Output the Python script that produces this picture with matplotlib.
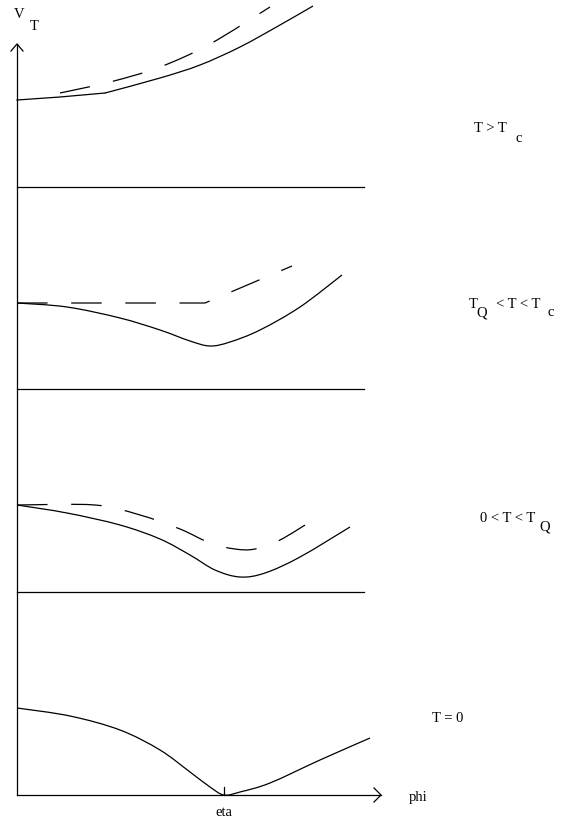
import numpy as np
import matplotlib
matplotlib.use("Agg")
import matplotlib.pyplot as plt
from matplotlib.path import Path
from matplotlib.patches import PathPatch

plt.rcParams["font.family"] = ["Liberation Serif", "DejaVu Serif"]
plt.rcParams["lines.scale_dashes"] = False

# ==========================
# Data (schematic, picture units: phi to the right, V downwards)
# ==========================

# T > Tc
phi_hot = [17, 60, 105, 160, 200, 240, 280, 313]
v_hot = [100, 97, 93, 78, 65, 47, 25, 6]
phi_hot_d = [60, 110, 160, 210, 270]
v_hot_d = [93, 82, 67, 44, 7]

# TQ < T < Tc
phi_mid = [17, 67, 120, 160, 190, 210, 230, 260, 300, 342]
v_mid = [303, 307, 318, 330, 341, 346, 342, 330, 307, 275]
phi_mid_d = [17, 205, 292]
v_mid_d = [303, 303, 266]

# 0 < T < TQ
phi_low = [17, 67, 120, 160, 190, 215, 240, 265, 300, 350]
v_low = [505, 513, 525, 539, 555, 570, 577, 573, 557, 527]
phi_low_d = [17, 95, 140, 180, 210, 235, 255, 280, 313]
v_low_d = [505, 505, 515, 529, 543, 549, 549, 540, 520]

# T = 0
phi_zero = [17, 70, 120, 160, 190, 210, 224, 240, 270, 320, 370]
v_zero = [708, 716, 730, 750, 772, 787, 795, 792, 783, 760, 738]

separators = [187, 389, 592]


def smooth_path(xs, ys):
    # cubic bezier through the points (catmull-rom tangents)
    p = np.column_stack([xs, ys]).astype(float)
    verts = [p[0]]
    codes = [Path.MOVETO]
    for i in range(len(p) - 1):
        t0 = (p[i + 1] - p[max(i - 1, 0)]) / 6.0
        t1 = (p[min(i + 2, len(p) - 1)] - p[i]) / 6.0
        verts += [p[i] + t0, p[i + 1] - t1, p[i + 1]]
        codes += [Path.CURVE4] * 3
    return Path(verts, codes)


def curve(ax, xs, ys, **kw):
    ax.add_patch(PathPatch(smooth_path(xs, ys), fill=False,
                           edgecolor="black", **kw))


# ==========================
# Figure
# ==========================

fig = plt.figure(figsize=(5.81, 8.27), dpi=100)
ax = fig.add_axes([0, 0, 1, 1])
ax.set_xlim(0, 581)
ax.set_ylim(827, 0)
ax.axis("off")

lw = 0.9
dash = (0, (22, 17))

# kink in the T > Tc curve
ax.plot(phi_hot[:3], v_hot[:3], color="black", lw=lw)
curve(ax, phi_hot[2:], v_hot[2:], lw=lw)
curve(ax, phi_hot_d, v_hot_d, lw=lw, linestyle=dash)

curve(ax, phi_mid, v_mid, lw=lw)
ax.plot(phi_mid_d, v_mid_d, color="black", lw=lw, linestyle=dash)

curve(ax, phi_low, v_low, lw=lw)
curve(ax, phi_low_d, v_low_d, lw=lw, linestyle=dash)

curve(ax, phi_zero, v_zero, lw=lw)

for y in separators:
    ax.plot([17, 364], [y, y], color="black", lw=lw)

# axes with open arrow heads
ax.plot([17, 17], [44, 795], color="black", lw=lw)
ax.plot([11, 17, 23], [51, 44, 51], color="black", lw=lw)
ax.plot([17, 381], [795, 795], color="black", lw=lw)
ax.plot([374, 381, 374], [788, 795, 802], color="black", lw=lw)
ax.plot([224, 224], [795, 787], color="black", lw=lw)

fs = 10.5
ax.text(19, 14, "V", fontsize=fs, ha="center", va="center")
ax.text(34, 27, "T", fontsize=fs, ha="center", va="center")
ax.text(418, 797, "phi", fontsize=fs, ha="center", va="center")
ax.text(224, 812, "eta", fontsize=fs, ha="center", va="center")

ax.text(474, 128, "T > T", fontsize=fs, ha="left", va="center")
ax.text(515, 138, "c", fontsize=fs, ha="left", va="center")

ax.text(469, 305, "T", fontsize=fs, ha="left", va="center")
ax.text(476, 313, "Q", fontsize=fs, ha="left", va="center")
ax.text(496, 305, "< T < T", fontsize=fs, ha="left", va="center")
ax.text(548, 313, "c", fontsize=fs, ha="left", va="center")

ax.text(480, 519, "0 < T < T", fontsize=fs, ha="left", va="center")
ax.text(539, 527, "Q", fontsize=fs, ha="left", va="center")

ax.text(432, 718, "T = 0", fontsize=fs, ha="left", va="center")

plt.savefig("out.png", dpi=100)
